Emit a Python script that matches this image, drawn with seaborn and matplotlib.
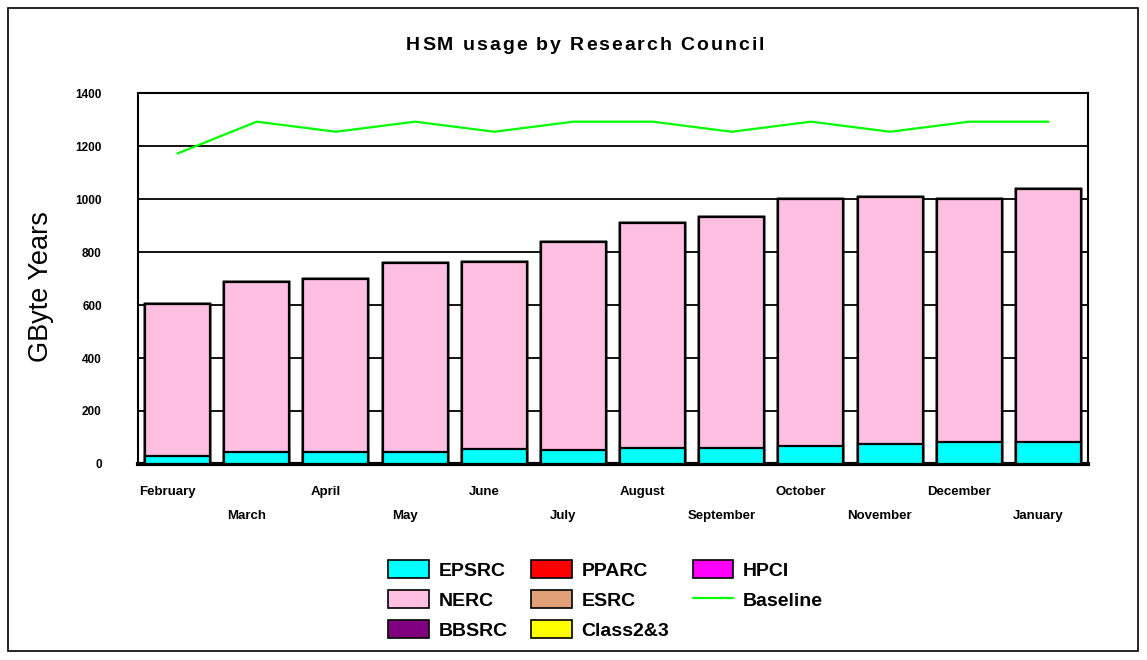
import numpy as np
import pandas as pd
import matplotlib
matplotlib.use("Agg")
import matplotlib.pyplot as plt
from matplotlib.patches import Patch, Rectangle
from matplotlib.lines import Line2D
import seaborn as sns

months = ["February", "March", "April", "May", "June", "July", "August",
          "September", "October", "November", "December", "January"]
epsrc = [31, 46, 46, 46, 55, 53, 60, 60, 68, 75, 84, 84]
nerc = [574, 642, 651, 711, 708, 785, 848, 871, 931, 931, 915, 953]
bbsrc = [0] * 12
pparc = [0] * 12
esrc = [0] * 12
class23 = [0] * 12
hpci = [0] * 12
baseline = [1172, 1292, 1254, 1292, 1254, 1292, 1292, 1254, 1292, 1254, 1292, 1292]
yticks = [0, 200, 400, 600, 800, 1000, 1200, 1400]
title = "HSM usage by Research Council"

series = [("EPSRC", epsrc, "#00FFFF"),
          ("NERC", nerc, "#FFBFE0"),
          ("BBSRC", bbsrc, "#800080"),
          ("PPARC", pparc, "#FF0000"),
          ("ESRC", esrc, "#E0A078"),
          ("Class2&3", class23, "#FFFF00"),
          ("HPCI", hpci, "#FF00FF")]

sns.set_style("white")
plt.rcParams["font.family"] = ["Liberation Sans", "DejaVu Sans"]
for key in ("text.color", "axes.labelcolor", "xtick.color", "ytick.color"):
    plt.rcParams[key] = "black"

W, H = 1147, 660
fig = plt.figure(figsize=(W / 100, H / 100), dpi=100)
ax = fig.add_axes([0.1203, 0.297, 0.8283, 0.562])

# stacked bars: draw cumulative totals from the top of the stack downwards
cum = np.cumsum([np.array(v, dtype=float) for _, v, _ in series], axis=0)
df = pd.DataFrame({"month": months})
for i in range(len(series) - 1, -1, -1):
    name, _, col = series[i]
    df["val"] = cum[i]
    sns.barplot(data=df, x="month", y="val", color=col, saturation=1,
                width=0.82, edgecolor="black", linewidth=1.6, ax=ax, zorder=3)

sns.lineplot(x=np.arange(len(months)), y=baseline, color="#00FF00",
             linewidth=1.6, ax=ax, zorder=4)

ax.set_ylim(0, 1400)
ax.set_xlim(-0.5, len(months) - 0.5)
ax.set_yticks(yticks)
ax.set_yticklabels([str(v) for v in yticks], fontsize=8.5, fontweight="bold")
ax.yaxis.grid(True, color="black", linewidth=1.3, zorder=0)
ax.set_axisbelow(True)
# month labels sit slightly left of the bar centres, in two staggered rows
ax.set_xticks(np.arange(len(months)) - 0.13)
ax.set_xticklabels([m if i % 2 == 0 else "\n" + m for i, m in enumerate(months)],
                   fontsize=9.5, fontweight="bold", linespacing=2.3)
ax.tick_params(axis="both", length=0)
ax.tick_params(axis="x", pad=16)
ax.tick_params(axis="y", pad=26)
ax.set_xlabel("")
ax.set_ylabel("GByte Years", fontsize=19.5)
ax.yaxis.set_label_coords(-0.088, 0.477)
for s in ax.spines.values():
    s.set_color("black")
    s.set_linewidth(1.5)
    s.set_visible(True)
ax.spines["bottom"].set_linewidth(3)

# letter-spaced title, laid out character by character
renderer = fig.canvas.get_renderer()
tfont = dict(fontsize=14, fontweight="bold")


def prefix_width(s):
    if not s:
        return 0.0
    t = fig.text(0, 0, s + "|", **tfont)
    bar = fig.text(0, 0, "|", **tfont)
    w = t.get_window_extent(renderer).width - bar.get_window_extent(renderer).width
    t.remove()
    bar.remove()
    return w


target_w = 358.0
natural = prefix_width(title)
extra = (target_w - natural) / (len(title) - 1)
x0 = 585 - target_w / 2
for i, ch in enumerate(title):
    if ch == " ":
        continue
    x = x0 + prefix_width(title[:i]) + i * extra
    fig.text(x / W, 1 - 45 / H, ch, ha="left", va="center", **tfont)

handles = [Patch(facecolor=c, edgecolor="black", linewidth=1.2, label=n)
           for n, _, c in series]
handles.append(Line2D([], [], color="#00FF00", linewidth=1.6, label="Baseline"))
fig.legend(handles=handles, loc="center", bbox_to_anchor=(0.528, 0.091),
           ncol=3, frameon=False, prop={"size": 14, "weight": "bold"},
           handlelength=2.1, handleheight=1.0, handletextpad=0.5,
           columnspacing=1.2, labelspacing=0.55)

fig.patches.append(Rectangle((8 / W, 9 / H), 1130 / W, 643 / H,
                             transform=fig.transFigure, fill=False,
                             edgecolor="black", linewidth=1.2))

fig.savefig("out.png", dpi=100, facecolor="white")
